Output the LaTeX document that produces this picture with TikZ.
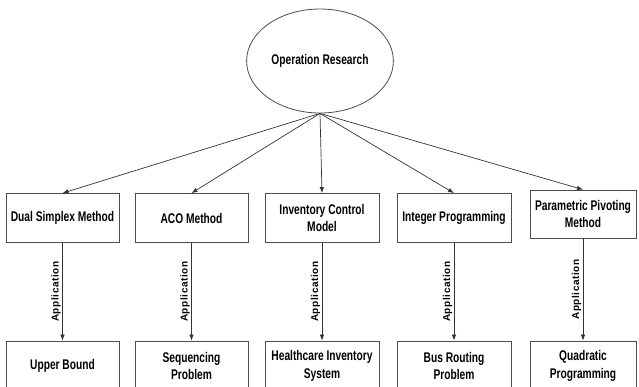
\documentclass[tikz,border=0pt]{standalone}
\usepackage{fontspec}
\setmainfont{Liberation Sans}[FakeStretch=0.73]
\newfontfamily\appfont{Liberation Sans}[LetterSpace=6]
\usetikzlibrary{arrows.meta,shapes.geometric}
\begin{document}
\begin{tikzpicture}[x=1pt,y=-1pt,
  box/.style={draw=black!70, line width=0.8pt, minimum width=113pt, minimum height=49pt, inner sep=1pt, align=center, font=\fontsize{14}{17.5}\selectfont\bfseries},
  arr/.style={draw=black!80, line width=0.7pt, -{Latex[length=6pt,width=4.5pt]}},
  applab/.style={rotate=90, font=\appfont\fontsize{10}{11}\selectfont\bfseries, inner sep=1.5pt}]
\useasboundingbox (0,0) rectangle (639,387);
\clip (0,0) rectangle (639,387);
\node[draw=black!70, line width=0.8pt, ellipse, minimum width=108pt, minimum height=104pt, font=\fontsize{14}{17}\selectfont\bfseries] (or) at (320,61) {Operation Research};
\node[box] (t1) at (62.5,218) {Dual Simplex Method};
\node[box] (t2) at (191.5,218) {ACO Method};
\node[box, minimum width=114pt] (t3) at (322,218) {Inventory Control\\Model};
\node[box, minimum width=114pt] (t4) at (454,218) {Integer Programming};
\node[box, minimum width=106pt, minimum height=48pt] (t5) at (583,214) {Parametric Pivoting\\Method};
\node[box, minimum height=50pt] (b1) at (62.5,366) {Upper Bound};
\node[box, minimum height=50pt] (b2) at (191.5,366) {Sequencing\\Problem};
\node[box, minimum width=114pt, minimum height=50pt] (b3) at (322,366) {Healthcare Inventory\\System};
\node[box, minimum width=114pt, minimum height=50pt] (b4) at (454,366) {Bus Routing\\Problem};
\node[box, minimum width=106pt, minimum height=50pt] (b5) at (583,366) {Quadratic\\Programming};
\foreach \i in {1,...,5}{
  \draw[arr] (or.south) -- (t\i.north);
  \draw[arr] (t\i.south) -- node[applab, above] {Application} (b\i.north);
}
\end{tikzpicture}
\end{document}
